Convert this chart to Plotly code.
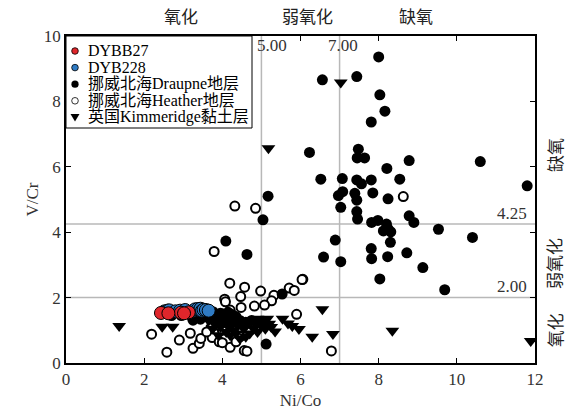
import plotly.graph_objects as go

# ---------------- data ----------------
dybb27_x = [2.43, 2.94, 3.14, 2.62, 3.02]
dybb27_y = [1.53, 1.54, 1.55, 1.52, 1.52]

dyb228_x = [2.52, 2.60, 2.64, 2.80, 2.92, 3.05, 3.26, 3.30, 3.37, 3.42, 3.44, 3.48, 3.52, 3.58, 3.65]
dyb228_y = [1.58, 1.60, 1.61, 1.58, 1.60, 1.62, 1.60, 1.64, 1.65, 1.62, 1.66, 1.60, 1.63, 1.62, 1.60]

draupne_x = [8.00, 6.56, 7.44, 8.03, 8.16, 7.81, 6.23, 7.48, 7.45, 7.64, 8.78, 10.60, 8.21, 6.52,
             7.07, 7.44, 7.56, 7.81, 8.54, 11.80, 7.08, 6.97, 7.39, 7.44, 7.85, 8.24, 7.03, 7.44,
             7.46, 7.82, 7.98, 8.20, 8.24, 8.78, 8.90, 9.53, 10.40, 8.12, 8.31, 6.89, 8.30, 7.81,
             8.72, 6.59, 7.03, 7.82, 8.23, 9.13, 8.03, 9.69,
             5.17, 5.04, 4.09, 4.63, 5.53, 5.12,
             3.25, 3.44, 3.86, 4.02, 3.20, 3.35, 3.55, 3.65, 3.76, 3.95, 4.15, 4.25, 4.35, 4.10,
             3.70, 2.70, 2.95, 4.45, 4.60, 4.75, 5.00, 4.20, 3.90]
draupne_y = [9.36, 8.66, 8.76, 8.20, 7.70, 7.37, 6.44, 6.54, 6.27, 6.27, 6.19, 6.16, 5.95, 5.62,
             5.64, 5.60, 5.48, 5.60, 5.62, 5.42, 5.24, 5.12, 5.19, 4.98, 5.20, 5.02, 4.76, 4.63,
             4.40, 4.30, 4.36, 4.25, 4.10, 4.50, 4.30, 4.09, 3.84, 4.04, 4.01, 3.76, 3.69, 3.50,
             3.37, 3.24, 3.10, 3.19, 3.25, 2.92, 2.57, 2.24,
             5.10, 4.38, 3.73, 3.32, 2.11, 0.58,
             1.31, 1.34, 1.47, 1.50, 1.45, 1.50, 1.46, 1.40, 1.57, 1.52, 1.55, 1.48, 1.42, 1.35,
             1.36, 1.45, 1.45, 1.30, 1.25, 1.30, 1.20, 1.18, 1.25]

heather_x = [8.63, 6.06, 6.79, 4.32, 4.85, 3.79, 4.19, 4.57, 4.98, 6.04, 5.71, 5.84, 5.32, 4.06,
             4.47, 5.26, 5.08, 4.48, 4.82, 4.08, 4.20, 4.22, 5.90, 4.20, 4.56, 4.63, 2.19, 2.58,
             2.90, 3.18, 3.25, 3.41, 3.45, 3.74, 3.92, 3.71, 3.60, 4.00, 4.30, 4.15, 3.90, 4.45,
             4.35, 4.00]
heather_y = [5.09, 2.56, 0.37, 4.80, 4.73, 3.41, 2.44, 2.32, 2.20, 2.55, 2.29, 2.22, 2.07, 1.95,
             2.03, 1.90, 1.77, 1.70, 1.74, 1.87, 1.62, 1.35, 1.49, 0.48, 0.38, 0.36, 0.88, 0.33,
             0.70, 0.91, 0.45, 0.60, 0.75, 0.78, 0.65, 1.08, 0.95, 1.00, 1.10, 1.20, 1.15, 0.80,
             0.65, 0.62]

kimm_x = [7.03, 5.18, 1.36, 2.46, 2.73, 6.56, 6.30, 6.83, 8.35, 11.89, 5.54, 5.68, 5.79, 5.96,
          5.35, 3.65, 3.80, 3.75, 3.95, 4.10, 4.20, 4.30, 4.40, 4.25, 4.55, 4.50, 4.65, 4.70,
          4.75, 4.80, 4.85, 4.90, 4.95, 5.00, 5.05, 5.10, 5.20, 5.25, 4.60, 4.45, 3.90, 4.05,
          4.35, 5.15, 4.90]
kimm_y = [8.58, 6.57, 1.13, 1.11, 1.11, 1.64, 0.80, 0.89, 0.99, 0.67, 1.35, 1.21, 1.13, 1.04,
          0.96, 1.30, 1.20, 1.05, 1.10, 0.95, 0.85, 1.00, 1.15, 1.25, 1.05, 1.25, 1.20, 0.90,
          1.30, 1.05, 1.20, 0.95, 1.30, 1.15, 1.25, 1.05, 1.20, 1.10, 0.80, 0.75, 0.85, 1.30,
          0.90, 1.35, 1.35]

ref_x = [5.0, 7.0]
ref_y = [2.0, 4.25]
ref_x_labels = ["5.00", "7.00"]
ref_y_labels = ["2.00", "4.25"]
top_zones = ["氧化", "弱氧化", "缺氧"]
right_zones = ["缺氧", "弱氧化", "氧化"]

SERIF = "Liberation Serif"
CJK = "Noto Sans CJK SC"
MIX = "Liberation Serif, Noto Sans CJK SC"

# name, x, y, symbol, size, fill, outline width
series = [
    ("挪威北海Heather地层", heather_x, heather_y, "circle", 9, "white", 2),
    ("英国Kimmeridge黏土层", kimm_x, kimm_y, "triangle-down", 12, "black", 0),
    ("挪威北海Draupne地层", draupne_x, draupne_y, "circle", 11, "black", 0),
    ("DYB228", dyb228_x, dyb228_y, "circle", 13, "#2f7bc4", 1),
    ("DYBB27", dybb27_x, dybb27_y, "circle", 13, "#e0262b", 1),
]
legend_order = ["DYBB27", "DYB228", "挪威北海Draupne地层", "挪威北海Heather地层", "英国Kimmeridge黏土层"]

fig = go.Figure()
for name, xs, ys, sym, sz, fill, lw in series:
    fig.add_trace(go.Scatter(x=xs, y=ys, mode="markers", name=name, showlegend=False,
                             marker=dict(symbol=sym, size=sz, color=fill,
                                         line=dict(color="black", width=lw))))

for v in ref_x:
    fig.add_shape(type="line", x0=v, x1=v, y0=0, y1=10, xref="x", yref="y",
                  line=dict(color="#b8b8b8", width=1.5), layer="below")
for v in ref_y:
    fig.add_shape(type="line", x0=0, x1=12, y0=v, y1=v, xref="x", yref="y",
                  line=dict(color="#b8b8b8", width=1.5), layer="below")

# ---- compact legend box (plot area: 469 x 327 px) ----
PW, PH = 469.0, 327.0
def px(dx):
    return dx / PW
def py(dy):
    return 1 - dy / PH

fig.add_shape(type="rect", xref="paper", yref="paper", x0=0, x1=px(186), y0=py(92), y1=1,
              line=dict(color="black", width=1), fillcolor="white", layer="above")
ann = []
style = {s[0]: s for s in series}
for i, name in enumerate(legend_order):
    _, _, _, sym, _, fill, lw = style[name]
    cy = py(15 + i * 16.6)
    if sym == "circle":
        r = 3.3 if name != "挪威北海Draupne地层" else 3.6
        fig.add_shape(type="circle", xref="paper", yref="paper", xsizemode="pixel",
                      ysizemode="pixel", xanchor=px(9), yanchor=cy,
                      x0=-r, x1=r, y0=-r, y1=r, fillcolor=fill,
                      line=dict(color="black", width=0.8 if lw else 0), layer="above")
    else:
        fig.add_shape(type="path", xref="paper", yref="paper", xsizemode="pixel",
                      ysizemode="pixel", xanchor=px(9), yanchor=cy,
                      path="M -4.5 3.5 L 4.5 3.5 L 0 -4 Z", fillcolor="black",
                      line=dict(width=0), layer="above")
    ann.append(dict(x=px(20), y=cy, xref="paper", yref="paper", xanchor="left",
                    yanchor="middle", text=name, showarrow=False,
                    font=dict(family=MIX, size=16, color="black")))

for v, t, dx in zip(ref_x, ref_x_labels, [0.28, 0.1]):
    ann.append(dict(x=v + dx, y=9.7, xref="x", yref="y", text=t, showarrow=False,
                    font=dict(family=SERIF, size=17, color="#333")))
for v, t in zip(ref_y, ref_y_labels):
    ann.append(dict(x=11.85, y=v + 0.33, xref="x", yref="y", text=t, showarrow=False,
                    xanchor="right", font=dict(family=SERIF, size=17, color="#333")))
for xp, t in zip([2.94, 6.17, 8.95], top_zones):
    ann.append(dict(x=xp, y=1.0, xref="x", yref="paper", yanchor="bottom", yshift=6,
                    text=t, showarrow=False, font=dict(family=CJK, size=17, color="#222")))
for yp, t in zip([6.36, 3.03, 1.0], right_zones):
    ann.append(dict(x=1.0, y=yp, xref="paper", yref="y", xanchor="center", yanchor="middle",
                    xshift=19, text=t, showarrow=False,
                    textangle=-90, font=dict(family=CJK, size=17, color="#222")))
# y-axis title
ann.append(dict(x=0, y=0.5, xref="paper", yref="paper", xshift=-34, xanchor="center",
                yanchor="middle", text="V/Cr", textangle=-90, showarrow=False,
                font=dict(family=SERIF, size=17, color="#333")))

fig.update_layout(
    width=570, height=416,
    margin=dict(l=66, r=35, t=36, b=53),
    paper_bgcolor="white", plot_bgcolor="white",
    showlegend=False,
    annotations=ann,
)
fig.update_xaxes(range=[0, 12], dtick=2, showgrid=False, zeroline=False, automargin=False,
                 showline=True, linecolor="black", linewidth=1.5, mirror="ticks",
                 ticks="inside", ticklen=5, tickcolor="black",
                 tickfont=dict(family=SERIF, size=17, color="#333"),
                 title=dict(text="Ni/Co", font=dict(family=SERIF, size=17, color="#333"),
                            standoff=6))
fig.update_yaxes(range=[0, 10], dtick=2, showgrid=False, zeroline=False, automargin=False,
                 showline=True, linecolor="black", linewidth=1.5, mirror="ticks",
                 ticks="inside", ticklen=5, tickcolor="black",
                 tickfont=dict(family=SERIF, size=17, color="#333"))

fig.write_html("out.html")
